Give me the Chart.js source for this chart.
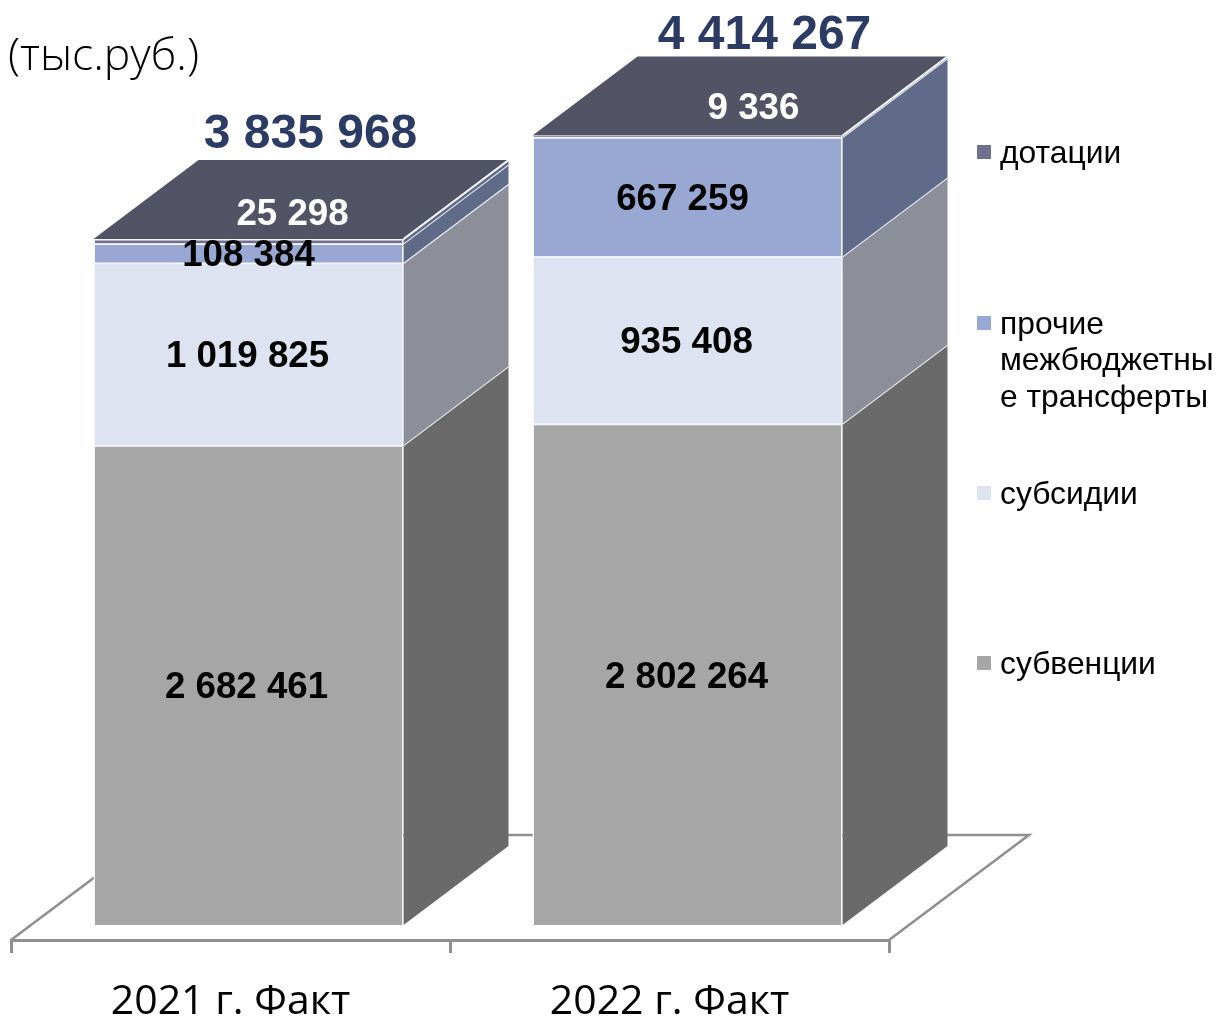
<!DOCTYPE html>
<html lang="ru">
<head>
<meta charset="utf-8">
<title>Безвозмездные поступления</title>
<script src="https://cdn.jsdelivr.net/npm/chart.js@4"></script>
<style>
  html, body { margin: 0; background: #fff; }
  #wrap { width: 1218px; height: 1019px; overflow: hidden; }
</style>
</head>
<body>
<div id="wrap"><canvas id="chart" width="1218" height="1019"></canvas></div>
<script>
/* Data */
const categories = ["2021 г. Факт", "2022 г. Факт"];
const subventions = [2682461, 2802264];
const subsidies   = [1019825, 935408];
const otherTransfers = [108384, 667259];
const grants      = [25298, 9336];
const totals      = [3835968, 4414267];
const unitLabel = "(тыс.руб.)";
const seriesNames = ["субвенции", "субсидии", "прочие межбюджетные трансферты", "дотации"];

/* Styles */
const frontColors = ["#a6a6a6", "#dde3f0", "#98a8d2", "#6f708c"];
const sideColors  = ["#6a6a6a", "#8c8f99", "#5f6b88", "#5f6b88"];
const topColor = "#535366";
const edgeColor = "#f4f6fa";
const floorColor = "#8f8f8f";
const depthX = 105, depthY = 79;      // how far the boxes go back
const frontShiftX = 18, frontShiftY = -15; // front plane vs. the axis line
const valueFont = "bold 36.7px 'Liberation Sans', Arial, sans-serif";
const totalFont = "bold 48px 'Liberation Sans', Arial, sans-serif";
const legendFont = "31.8px 'Liberation Sans', Arial, sans-serif";

function fmt(v) { return String(v).replace(/\B(?=(\d{3})+$)/g, " "); }

/* floor + side and top faces, bars get drawn by the library on top */
const boxPlugin = {
  id: "box3d",
  beforeDatasetsDraw(chart) {
    const { ctx, chartArea: a } = chart;
    ctx.save();
    ctx.strokeStyle = floorColor;
    ctx.lineWidth = 2.5;
    ctx.beginPath();
    ctx.moveTo(a.left, a.bottom);
    ctx.lineTo(a.left + 140, a.bottom - 105);
    ctx.lineTo(a.right + 140, a.bottom - 105);
    ctx.lineTo(a.right, a.bottom);
    ctx.stroke();
    ctx.restore();

    ctx.save();
    ctx.translate(frontShiftX, frontShiftY);
    chart.data.datasets.forEach((ds, i) => {
      chart.getDatasetMeta(i).data.forEach(bar => {
        const r = bar.x + bar.width / 2;
        ctx.beginPath();
        ctx.moveTo(r, bar.base);
        ctx.lineTo(r + depthX, bar.base - depthY);
        ctx.lineTo(r + depthX, bar.y - depthY);
        ctx.lineTo(r, bar.y);
        ctx.closePath();
        ctx.fillStyle = sideColors[i];
        ctx.fill();
        ctx.beginPath();
        ctx.moveTo(r, bar.y);
        ctx.lineTo(r + depthX, bar.y - depthY);
        ctx.strokeStyle = edgeColor;
        ctx.lineWidth = 2;
        ctx.stroke();
      });
    });
    const last = chart.getDatasetMeta(chart.data.datasets.length - 1);
    last.data.forEach(bar => {
      const l = bar.x - bar.width / 2, r = bar.x + bar.width / 2;
      ctx.beginPath();
      ctx.moveTo(l, bar.y);
      ctx.lineTo(l + depthX, bar.y - depthY);
      ctx.lineTo(r + depthX, bar.y - depthY);
      ctx.lineTo(r, bar.y);
      ctx.closePath();
      ctx.fillStyle = topColor;
      ctx.fill();
      ctx.beginPath();
      ctx.moveTo(r, bar.y);
      ctx.lineTo(r + depthX, bar.y - depthY);
      ctx.strokeStyle = edgeColor;
      ctx.lineWidth = 2;
      ctx.stroke();
    });
  },
  afterDatasetsDraw(chart) {
    const { ctx } = chart;
    ctx.restore();
    drawValues(chart);
    drawLegend(chart);
    // unit note top left
    ctx.save();
    ctx.fillStyle = "#000";
    ctx.font = "300 44.5px 'Open Sans', sans-serif";
    ctx.textBaseline = "middle";
    ctx.fillText(unitLabel, 8, 57);
    ctx.restore();
  }
};

/* labels that don't sit in the middle of their segment */
const labelShift = { "3-0": [44, -26], "3-1": [66, -27], "0-0": [-2, 3], "0-1": [-1, 3], "1-0": [-1, 3], "1-1": [-1, 3], "2-0": [0, 3], "2-1": [-5, 3] };
const totalShift = [[62, -104], [77, -100]];

function drawValues(chart) {
  const { ctx } = chart;
  ctx.save();
  ctx.textAlign = "center";
  ctx.textBaseline = "middle";
  chart.data.datasets.forEach((ds, i) => {
    chart.getDatasetMeta(i).data.forEach((bar, j) => {
      const s = labelShift[i + "-" + j] || [0, 0];
      ctx.font = valueFont;
      ctx.fillStyle = i === 3 ? "#ffffff" : "#000000";
      ctx.fillText(fmt(ds.data[j]), bar.x + frontShiftX + s[0], (bar.y + bar.base) / 2 + frontShiftY + s[1]);
    });
  });
  chart.getDatasetMeta(3).data.forEach((bar, j) => {
    ctx.font = totalFont;
    ctx.fillStyle = "#2b3b64";
    ctx.fillText(fmt(totals[j]), bar.x + frontShiftX + totalShift[j][0], bar.y + frontShiftY + totalShift[j][1]);
  });
  ctx.restore();
}

function drawLegend(chart) {
  const { ctx } = chart;
  const rows = [
    { i: 3, y: 152, lines: [seriesNames[3]] },
    { i: 2, y: 323, lines: ["прочие", "межбюджетны", "е трансферты"] },
    { i: 1, y: 493, lines: [seriesNames[1]] },
    { i: 0, y: 663, lines: [seriesNames[0]] }
  ];
  ctx.save();
  ctx.font = legendFont;
  ctx.textBaseline = "middle";
  rows.forEach(row => {
    ctx.fillStyle = frontColors[row.i];
    ctx.fillRect(977, row.y - 7, 14, 14);
    ctx.fillStyle = "#000";
    row.lines.forEach((t, k) => ctx.fillText(t, 1000, row.y + 2 + k * 36.5));
  });
  ctx.restore();
}

new Chart(document.getElementById("chart"), {
  type: "bar",
  data: {
    labels: categories,
    datasets: [subventions, subsidies, otherTransfers, grants].map((values, i) => ({
      label: seriesNames[i],
      data: values,
      backgroundColor: frontColors[i],
      borderColor: edgeColor,
      borderWidth: 1.5,
      categoryPercentage: 1,
      barPercentage: 310 / 439
    }))
  },
  plugins: [boxPlugin],
  options: {
    responsive: false,
    animation: false,
    layout: { padding: { left: 11, right: 329, top: 10, bottom: 0 } },
    plugins: { legend: { display: false }, tooltip: { enabled: false } },
    scales: {
      x: {
        stacked: true,
        afterFit(scale) { scale.height = 79; },
        border: { color: floorColor, width: 3 },
        grid: { offset: true, drawOnChartArea: false, tickLength: 13, color: floorColor, lineWidth: 3 },
        ticks: { color: "#000", padding: 25, font: { family: "'Open Sans', sans-serif", size: 41 } }
      },
      y: { stacked: true, display: false, min: 0, max: 5200000 }
    }
  }
});
</script>
</body>
</html>
